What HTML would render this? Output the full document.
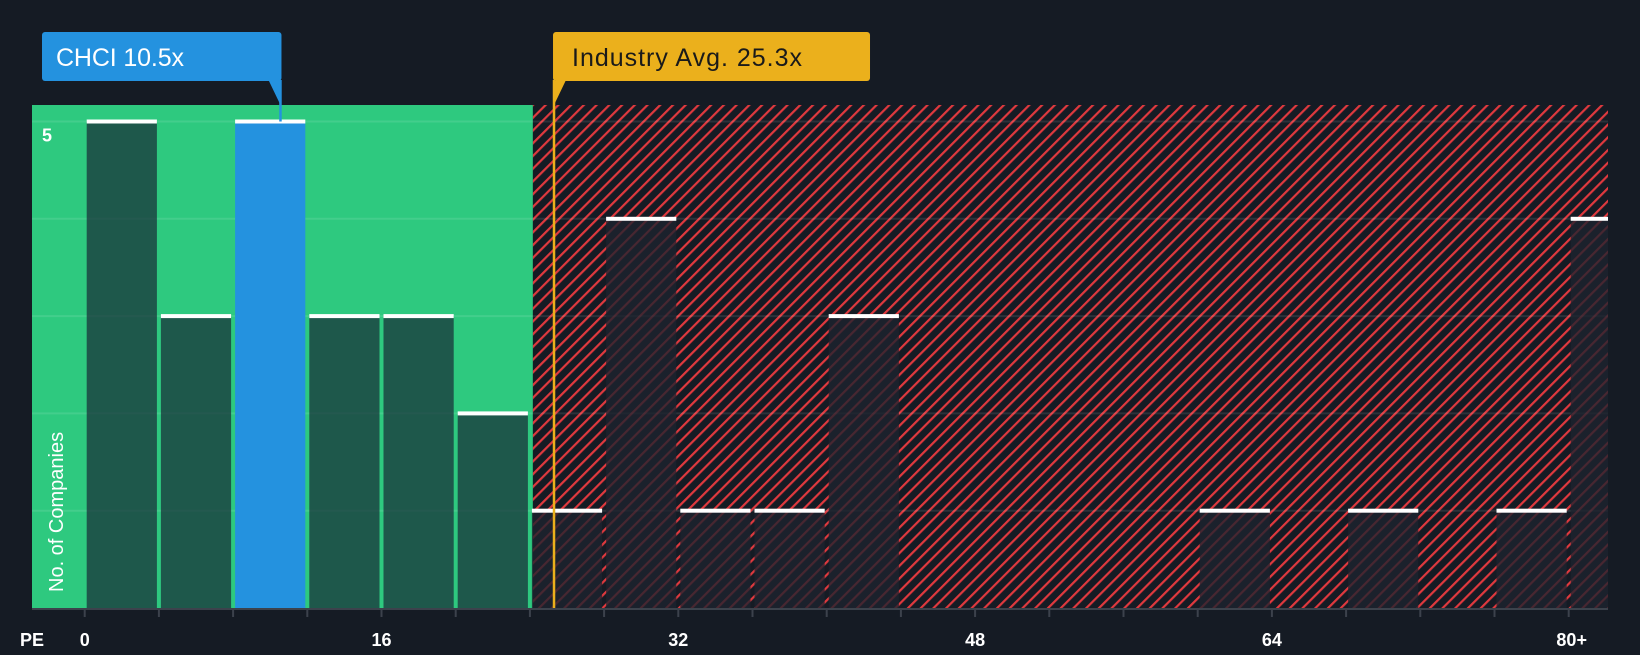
<!DOCTYPE html>
<html><head><meta charset="utf-8"><style>
html,body{margin:0;padding:0;background:#151b24;}
body{width:1640px;height:650px;overflow:hidden;font-family:"Liberation Sans",sans-serif;}
</style></head><body>
<svg width="1640" height="650" xmlns="http://www.w3.org/2000/svg">
<defs>
<pattern id="hatch" patternUnits="userSpaceOnUse" width="9" height="9" patternTransform="rotate(45)">
<rect width="9" height="9" fill="#151b24"/>
<rect x="0" y="0" width="2.2" height="9" fill="#e0393e"/>
</pattern>
<clipPath id="plotclip"><rect x="32" y="0" width="1576" height="650"/></clipPath>
</defs>
<g id="chart" clip-path="url(#plotclip)"></g>
<g id="labels"></g>
</svg>
<script>
const binStarts=[0,4,8,12,16,20,24,28,32,36,40,44,48,52,56,60,64,68,72,76,80];
const counts=[5,3,5,3,3,2,1,4,1,1,3,0,0,0,0,1,0,1,0,1,4];
const companyPE=10.5;
const industryPE=25.3;
const companyLabel="CHCI 10.5x";
const industryLabel="Industry Avg. 25.3x";
const xTicks=[0,16,32,48,64,80];
const xTickLabels=["0","16","32","48","64","80+"];
const yTicks=[5];

const NS="http://www.w3.org/2000/svg";
const g=document.getElementById('chart');
const g2=document.getElementById('labels');
const L=32,R=1608,T=105,B=608;
const x=v=>84.7+v*18.55;
const y=v=>B-v*97.3;
function el(tag,attrs,parent){const e=document.createElementNS(NS,tag);for(const k in attrs)e.setAttribute(k,attrs[k]);(parent||g).appendChild(e);return e;}
const splitX=x(24)+3;
let e=el('rect',{x:L,y:T,width:splitX-L,height:B-T,fill:'#2ec97f'});


e=el('rect',{x:splitX,y:T,width:R-splitX,height:B-T,fill:'url(#hatch)'});


for(let i=1;i<=5;i++){
 e=el('line',{x1:L,x2:R,y1:y(i),y2:y(i),stroke:'rgba(255,255,255,0.1)','stroke-width':2});
 
 
}
binStarts.forEach((s,i)=>{
 const c=counts[i]; if(!c) return;
 const x0=x(s)+2;
 let w=x(s+4)-x(s)-4;
 if(x0+w>R) w=R-x0;
 const isCo=companyPE>=s&&companyPE<s+4;
 const inGreen=s<24;
 let fill=isCo?'#2492df':(inGreen?'rgba(25,45,55,0.72)':'rgba(30,34,46,0.78)');
 const b=el('rect',{x:x0,y:y(c),width:w,height:B-y(c),fill:fill});
 
 
 const cap=el('rect',{x:x0,y:y(c)-2,width:w,height:4,fill:'#ffffff'});
 
 
});
e=el('line',{x1:L,x2:R,y1:B+1,y2:B+1,stroke:'#3c424c','stroke-width':2},g2);


for(let v=0;v<=80;v+=4){
 e=el('line',{x1:x(v),x2:x(v),y1:B,y2:B+9,stroke:'#3c424c','stroke-width':2},g2);
 
 
}
xTicks.forEach((v,i)=>{
 const t=el('text',{x:x(v)+(i==xTicks.length-1?3:0),y:646,fill:'#fff','font-size':18,'font-weight':'bold','text-anchor':'middle'},g2);
 t.textContent=xTickLabels[i];
 
 
});
e=el('text',{x:20,y:646,fill:'#fff','font-size':18,'font-weight':'bold'},g2);e.textContent='PE';


yTicks.forEach(v=>{
 const t=el('text',{x:47,y:y(v)+20,fill:'#fff','font-size':18,'font-weight':'bold','text-anchor':'middle'},g2);
 t.textContent=String(v);
 
 
});
e=el('text',{x:0,y:0,fill:'#fff','font-size':20,transform:'translate(63,592) rotate(-90)'},g2);e.textContent='No. of Companies';


const ix=x(industryPE);
e=el('line',{x1:ix,x2:ix,y1:80,y2:B,stroke:'#ebb01c','stroke-width':2.5},g2);


e=el('path',{d:`M${ix} 81 L${ix} 105 L${ix+12} 80 Z`,fill:'#ebb01c'},g2);


e=el('rect',{x:ix-1,y:32,width:317,height:49,rx:3,fill:'#ebb01c'},g2);


e=el('text',{x:ix+18,y:66,fill:'#1a1a1a','font-size':25,textLength:230},g2);e.textContent=industryLabel;


const cx=x(companyPE)+1;
e=el('line',{x1:cx,x2:cx,y1:80,y2:y(5),stroke:'#2492df','stroke-width':2.5},g2);


e=el('path',{d:`M${cx-12} 80 L${cx} 80 L${cx} 105 Z`,fill:'#2492df'},g2);


e=el('rect',{x:42,y:32,width:cx-41,height:49,rx:3,fill:'#2492df'},g2);


e=el('text',{x:56,y:66,fill:'#fff','font-size':25,textLength:128},g2);e.textContent=companyLabel;


</script>
</body></html>
